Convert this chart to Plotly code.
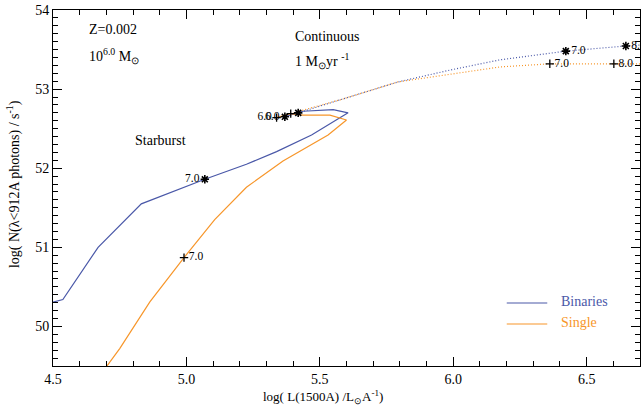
import plotly.graph_objects as go

# ---------------- data ----------------
# Starburst tracks (log L1500, log N_ion)
sb_bin_x = [5.369, 5.419, 5.437, 5.550, 5.606, 5.469, 5.338, 5.225, 5.069, 4.831, 4.669, 4.537, 4.500, 4.470]
sb_bin_y = [52.65, 52.70, 52.72, 52.74, 52.70, 52.42, 52.21, 52.05, 51.86, 51.55, 51.00, 50.34, 50.31, 50.28]

sb_sin_x = [5.338, 5.391, 5.437, 5.538, 5.600, 5.531, 5.362, 5.225, 5.106, 4.991, 4.863, 4.750, 4.700, 4.675]
sb_sin_y = [52.64, 52.69, 52.67, 52.67, 52.61, 52.42, 52.09, 51.76, 51.35, 50.87, 50.31, 49.72, 49.49, 49.37]

# Continuous star formation tracks
ct_bin_x = [5.419, 5.586, 5.792, 5.987, 6.175, 6.422, 6.549, 6.647, 6.718]
ct_bin_y = [52.70, 52.875, 53.09, 53.24, 53.37, 53.48, 53.52, 53.545, 53.56]

ct_sin_x = [5.391, 5.586, 5.792, 5.987, 6.175, 6.362, 6.480, 6.602, 6.718]
ct_sin_y = [52.69, 52.875, 53.09, 53.19, 53.28, 53.32, 53.32, 53.32, 53.32]

# Age markers (log age)
bin_mark_x = [5.369, 5.069, 5.419, 6.422, 6.647]
bin_mark_y = [52.65, 51.86, 52.70, 53.48, 53.545]
bin_mark_lbl = ["6.0", "7.0", "", "7.0", "8.0"]
bin_mark_pos = ["middle left", "middle left", "middle left", "middle right", "middle right"]

sin_mark_x = [5.338, 4.991, 5.391, 6.362, 6.602]
sin_mark_y = [52.64, 50.87, 52.69, 53.32, 53.32]
sin_mark_lbl = ["6.0", "7.0", "", "7.0", "8.0"]
sin_mark_pos = ["middle left", "middle right", "middle right", "middle right", "middle right"]

legend_names = ["Binaries", "Single"]

BLUE = "#4a58a8"
ORANGE = "#f7962a"
FONT = "Liberation Serif"

fig = go.Figure()

fig.add_trace(go.Scatter(x=sb_bin_x, y=sb_bin_y, mode="lines",
                         line=dict(color=BLUE, width=1.2), showlegend=False))
fig.add_trace(go.Scatter(x=sb_sin_x, y=sb_sin_y, mode="lines",
                         line=dict(color=ORANGE, width=1.2), showlegend=False))
fig.add_trace(go.Scatter(x=ct_bin_x, y=ct_bin_y, mode="lines",
                         line=dict(color=BLUE, width=1.2, dash="1px,2px"), showlegend=False))
fig.add_trace(go.Scatter(x=ct_sin_x, y=ct_sin_y, mode="lines",
                         line=dict(color=ORANGE, width=1.2, dash="1px,2px"), showlegend=False))

fig.add_trace(go.Scatter(x=bin_mark_x, y=bin_mark_y, mode="markers+text",
                         marker=dict(symbol="asterisk", size=7, color="black",
                                     line=dict(color="black", width=1.6)),
                         text=bin_mark_lbl, textposition=bin_mark_pos,
                         textfont=dict(family=FONT, size=11.5, color="black"),
                         showlegend=False, cliponaxis=True))
fig.add_trace(go.Scatter(x=sin_mark_x, y=sin_mark_y, mode="markers+text",
                         marker=dict(symbol="cross-thin", size=6, color="black",
                                     line=dict(color="black", width=1.3)),
                         text=sin_mark_lbl, textposition=sin_mark_pos,
                         textfont=dict(family=FONT, size=11.5, color="black"),
                         showlegend=False, cliponaxis=True))

axis_common = dict(showline=True, linecolor="black", linewidth=1, mirror="allticks",
                   ticks="inside", ticklen=9, tickwidth=1, tickcolor="black",
                   showgrid=False, zeroline=False,
                   tickfont=dict(family=FONT, size=14, color="black"))

fig.update_xaxes(range=[4.5, 6.7], dtick=0.5, tick0=4.5, tickformat=".1f",
                 minor=dict(dtick=0.1, ticks="inside", ticklen=5, tickcolor="black", showgrid=False),
                 **axis_common)
fig.update_yaxes(range=[49.5, 54.0], dtick=1, tick0=50,
                 minor=dict(dtick=0.1, ticks="inside", ticklen=5, tickcolor="black", showgrid=False),
                 **axis_common)

ann_font = dict(family=FONT, size=14, color="black")
annotations = [
    dict(text="Z=0.002", x=0.058, y=0.945, xref="paper", yref="paper",
         xanchor="left", yanchor="middle", showarrow=False, font=ann_font),
    dict(text="10<sup>6.0</sup> M<sub>⊙</sub>", x=0.058, y=0.87, xref="paper", yref="paper",
         xanchor="left", yanchor="middle", showarrow=False, font=ann_font),
    dict(text="Continuous", x=0.409, y=0.925, xref="paper", yref="paper",
         xanchor="left", yanchor="middle", showarrow=False, font=ann_font),
    dict(text="1 M<sub>⊙</sub>yr <sup>-1</sup>", x=0.409, y=0.857, xref="paper", yref="paper",
         xanchor="left", yanchor="middle", showarrow=False, font=ann_font),
    dict(text="Starburst", x=0.136, y=0.633, xref="paper", yref="paper",
         xanchor="left", yanchor="middle", showarrow=False, font=ann_font),
    dict(text="log( L(1500A) /L<sub>⊙</sub>A<sup>-1</sup>)", x=0.46, y=-0.088,
         xref="paper", yref="paper", xanchor="center", yanchor="middle",
         showarrow=False, font=dict(family=FONT, size=13, color="black")),
    dict(text="log( N(λ<912A photons) / s<sup>-1</sup>)", x=-0.067, y=0.51,
         xref="paper", yref="paper", xanchor="center", yanchor="middle", textangle=-90,
         showarrow=False, font=dict(family=FONT, size=14, color="black")),
]

# manual legend
shapes = []
for name, col, yy in zip(legend_names, [BLUE, ORANGE], [0.177, 0.118]):
    shapes.append(dict(type="line", xref="paper", yref="paper", x0=0.773, x1=0.842,
                       y0=yy, y1=yy, line=dict(color=col, width=1.2)))
    annotations.append(dict(text=name, x=0.862, y=yy + 0.004, xref="paper", yref="paper",
                            xanchor="left", yanchor="middle", showarrow=False,
                            font=dict(family=FONT, size=14, color=col)))

fig.update_layout(
    width=641, height=409,
    margin=dict(l=53, r=1, t=10, b=43),
    plot_bgcolor="white", paper_bgcolor="white",
    font=dict(family=FONT, size=14, color="black"),
    showlegend=False,
    annotations=annotations,
    shapes=shapes,
)

fig.write_html("out.html")
